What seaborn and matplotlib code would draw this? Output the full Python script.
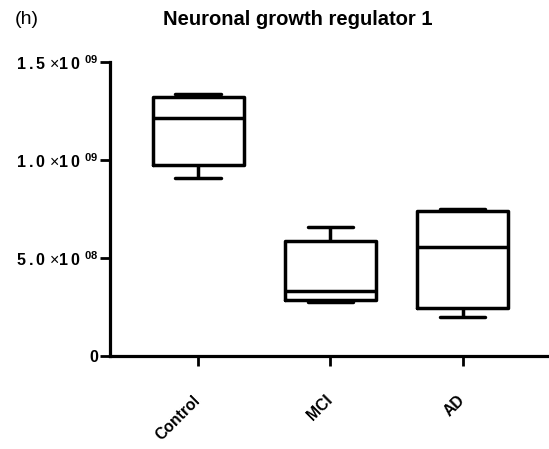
import numpy as np
import pandas as pd
import matplotlib
matplotlib.use("Agg")
import matplotlib.pyplot as plt
import seaborn as sns

# Five-number summaries per group (min, Q1, median, Q3, max)
groups = ["Control", "MCI", "AD"]
control_vals = [0.910e9, 0.974e9, 1.213e9, 1.323e9, 1.337e9]
mci_vals = [0.277e9, 0.286e9, 0.332e9, 0.588e9, 0.660e9]
ad_vals = [0.200e9, 0.243e9, 0.558e9, 0.740e9, 0.748e9]

y_ticks = [0, 5.0e8, 1.0e9, 1.5e9]
y_mantissas = ["", "5.0", "1.0", "1.5"]
y_exponents = ["", "08", "09", "09"]

title = "Neuronal growth regulator 1"
panel = "(h)"

THIN = "\u2009"


def sci_label(mantissa, exponent):
    """Bold, letter-spaced 'm x 10^e' tick label."""
    if not mantissa:
        return "0"
    m = THIN.join(mantissa)
    return m + r" $\times$" + "1" + THIN + "0" + r" $^{\mathbf{%s}}$" % exponent


df = pd.DataFrame({
    "group": np.repeat(groups, 5),
    "value": control_vals + mci_vals + ad_vals,
})

sns.set_style("white")
plt.rcParams["font.family"] = ["Liberation Sans", "DejaVu Sans"]
plt.rcParams["mathtext.fontset"] = "custom"
plt.rcParams["mathtext.rm"] = "Liberation Sans"
plt.rcParams["mathtext.it"] = "Liberation Sans"
plt.rcParams["mathtext.bf"] = "Liberation Sans:bold"
plt.rcParams["text.color"] = "black"
plt.rcParams["xtick.color"] = "black"
plt.rcParams["ytick.color"] = "black"

fig = plt.figure(figsize=(5.49, 4.49), dpi=100)
ax = fig.add_axes([110 / 549, 1 - 356 / 449, 1 - 110 / 549, (356 - 62) / 449])

lw = 2.5
sns.boxplot(
    data=df, x="group", y="value", order=groups, ax=ax,
    whis=(0, 100), width=0.69, fill=False, color="black", linecolor="black",
    linewidth=lw,
    medianprops=dict(color="black", linewidth=lw),
)

ax.set_ylim(0, 1.5e9)
ax.set_xlim(-0.668, 2.653)
ax.set_yticks(y_ticks)
ax.set_yticklabels([sci_label(m, e) for m, e in zip(y_mantissas, y_exponents)],
                   fontsize=11.5, fontweight="bold", color="black")
ax.set_xticks(range(len(groups)))
ax.set_xticklabels(groups, fontsize=11.3, fontweight="bold", rotation=45,
                   ha="right", va="center", rotation_mode="anchor", color="black")
ax.set_xlabel("")
ax.set_ylabel("")

for side in ["top", "right"]:
    ax.spines[side].set_visible(False)
for side in ["left", "bottom"]:
    ax.spines[side].set_linewidth(2.3)
    ax.spines[side].set_color("black")
ax.tick_params(axis="both", which="both", length=7, width=2.0, color="black",
               left=True, bottom=True)
ax.tick_params(axis="y", pad=1.5)
ax.tick_params(axis="x", pad=23)

fig.text(297.5 / 549, 1 - 19.5 / 449, title, ha="center", va="center",
         fontsize=14.5, fontweight="bold", color="black")
fig.text(15 / 549, 1 - 19 / 449, panel, ha="left", va="center", fontsize=14,
         color="black")

fig.savefig("out.png", dpi=100)
